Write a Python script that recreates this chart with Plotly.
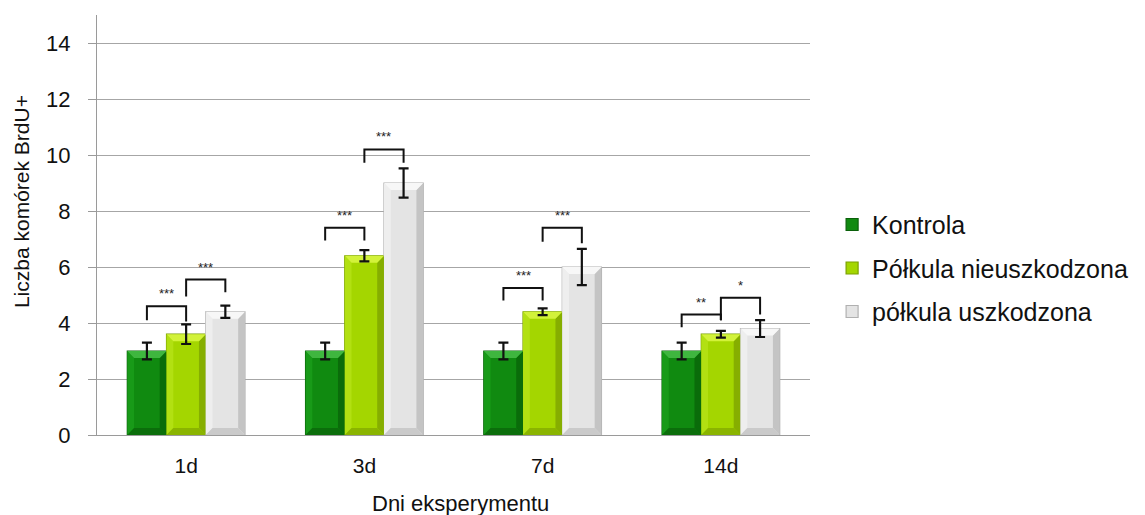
import plotly.graph_objects as go

# Experiment days and measured BrdU+ cell counts (mean ± SD)
days = ["1d", "3d", "7d", "14d"]
series_names = ["Kontrola", "Półkula nieuszkodzona", "półkula uszkodzona"]
kontrola = [3.0, 3.0, 3.0, 3.0]
kontrola_err = [0.3, 0.3, 0.3, 0.3]
nieuszkodzona = [3.6, 6.4, 4.4, 3.6]
nieuszkodzona_err = [0.35, 0.2, 0.12, 0.12]
uszkodzona = [4.4, 9.0, 6.0, 3.8]
uszkodzona_err = [0.22, 0.52, 0.65, 0.3]

# Significance brackets: (day index, first series, second series,
#                         bracket level, left leg end, right leg end, label)
brackets = [
    (0, 0, 1, 4.6, 4.1, 4.05, "***"),
    (0, 1, 2, 5.55, 4.95, 5.1, "***"),
    (1, 0, 1, 7.4, 6.95, 6.95, "***"),
    (1, 1, 2, 10.2, 9.72, 9.72, "***"),
    (2, 0, 1, 5.25, 4.8, 4.8, "***"),
    (2, 1, 2, 7.4, 6.9, 6.85, "***"),
    (3, 0, 1, 4.3, 3.85, 4.1, "**"),
    (3, 1, 2, 4.9, 4.1, 4.3, "*"),
]

# Face colour, edge colour and bevel tones (top, left, right, bottom)
fills = ["#108a10", "#a4d600", "#e4e4e4"]
edges = ["#0a600a", "#7aa000", "#b0b0b0"]
bevels = [
    ["#3fb63f", "#189a18", "#0a6c0a", "#0b6e0b"],
    ["#d2f23a", "#b2e012", "#86ae00", "#8ab400"],
    ["#f7f7f7", "#eeeeee", "#c4c4c4", "#cacaca"],
]

all_vals = [kontrola, nieuszkodzona, uszkodzona]
all_errs = [kontrola_err, nieuszkodzona_err, uszkodzona_err]

bar_w = 0.22
centers = [-bar_w, 0.0, bar_w]
x_pos = list(range(len(days)))

# Bevel depth in axis units (about 7 px on each axis)
bx = 0.038
by = 0.25

fig = go.Figure()
for i, (name, vals) in enumerate(zip(series_names, all_vals)):
    fig.add_trace(go.Bar(
        x=x_pos, y=vals, name=name,
        width=bar_w, offset=centers[i] - bar_w / 2,
        marker=dict(color=fills[i], line=dict(color=edges[i], width=1.2)),
        legendgroup=f"g{i}", hoverinfo="skip",
    ))

# Bevelled faces of every bar, built from the bar values
for i, vals in enumerate(all_vals):
    sides = {"top": ([], []), "left": ([], []), "right": ([], []), "bottom": ([], [])}
    for d, v in zip(x_pos, vals):
        x0 = d + centers[i] - bar_w / 2
        x1 = d + centers[i] + bar_w / 2
        polys = {
            "top": ([x0, x1, x1 - bx, x0 + bx, x0], [v, v, v - by, v - by, v]),
            "left": ([x0, x0 + bx, x0 + bx, x0, x0], [v, v - by, by, 0, v]),
            "right": ([x1, x1 - bx, x1 - bx, x1, x1], [v, v - by, by, 0, v]),
            "bottom": ([x0, x1, x1 - bx, x0 + bx, x0], [0, 0, by, by, 0]),
        }
        for k, (px, py) in polys.items():
            sides[k][0].extend(px + [None])
            sides[k][1].extend(py + [None])
    for k, col in zip(["left", "right", "bottom", "top"],
                      [bevels[i][1], bevels[i][2], bevels[i][3], bevels[i][0]]):
        fig.add_trace(go.Scatter(
            x=sides[k][0], y=sides[k][1], mode="lines", fill="toself",
            fillcolor=col, line=dict(width=0), showlegend=False,
            hoverinfo="skip",
        ))

# Error bars on top of the bevelled bars
for i, (vals, errs) in enumerate(zip(all_vals, all_errs)):
    fig.add_trace(go.Scatter(
        x=[d + centers[i] for d in x_pos], y=vals, mode="markers",
        marker=dict(size=1, color="rgba(0,0,0,0)"),
        error_y=dict(type="data", array=errs, color="#111111",
                     thickness=2.2, width=5),
        showlegend=False, hoverinfo="skip",
    ))

shapes = []
annotations = []
for d, a, b, top, l_end, r_end, label in brackets:
    xa = d + centers[a]
    xb = d + centers[b]
    shapes.append(dict(
        type="path", xref="x", yref="y",
        path=f"M {xa},{l_end} L {xa},{top} L {xb},{top} L {xb},{r_end}",
        line=dict(color="#111111", width=2),
    ))
    annotations.append(dict(
        x=(xa + xb) / 2, y=top, xref="x", yref="y", text=label,
        showarrow=False, yanchor="bottom", yshift=3,
        font=dict(size=13, color="#222222"),
    ))

# Axis titles
annotations.append(dict(
    text="Liczba komórek BrdU+", xref="paper", yref="paper",
    x=-0.1066, y=0.557, textangle=-90, showarrow=False,
    xanchor="center", yanchor="middle", font=dict(size=21, color="#111111"),
))
annotations.append(dict(
    text="Dni eksperymentu", xref="paper", yref="paper",
    x=0.5098, y=-0.162, showarrow=False,
    xanchor="center", yanchor="middle", font=dict(size=22, color="#111111"),
))

fig.update_layout(
    width=1145, height=515,
    margin=dict(l=97, r=335, t=15, b=80, autoexpand=False),
    paper_bgcolor="white", plot_bgcolor="white",
    font=dict(family="Liberation Sans, Arial, sans-serif", color="#111111"),
    barmode="overlay",
    showlegend=True,
    legend=dict(x=1.031, y=0.397, xanchor="left", yanchor="middle",
                font=dict(size=25, color="#111111"),
                tracegroupgap=8, traceorder="grouped",
                itemwidth=30),
    shapes=shapes,
    annotations=annotations,
)
fig.update_xaxes(
    range=[-0.5, 3.5], tickmode="array", tickvals=x_pos, ticktext=days,
    showgrid=False, showline=True, linecolor="#9a9a9a", linewidth=1,
    ticks="", tickfont=dict(size=21), ticklabelstandoff=12,
    zeroline=False,
)
fig.update_yaxes(
    range=[0, 15], tickmode="array", tickvals=list(range(0, 15, 2)),
    showgrid=True, gridcolor="#a6a6a6", gridwidth=1,
    showline=True, linecolor="#9a9a9a", linewidth=1,
    ticks="outside", ticklen=8, tickcolor="#9a9a9a",
    tickfont=dict(size=22), ticklabelstandoff=13,
    zeroline=False,
)

fig.write_html("out.html")
